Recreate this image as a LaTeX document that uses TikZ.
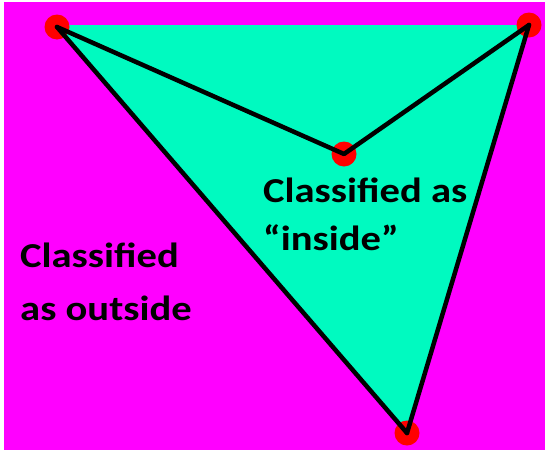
\documentclass[tikz,border=0pt]{standalone}
\usepackage{fontspec}
\setmainfont{Carlito}[FakeStretch=1.16]
\usepackage{tikz}
\usetikzlibrary{positioning}
\definecolor{bgmagenta}{RGB}{255,0,255}
\definecolor{insidegreen}{RGB}{0,250,192}

\begin{document}
\begin{tikzpicture}[x=1pt,y=-1pt,
  vertex/.style={circle, fill=red, inner sep=0pt, minimum size=25pt},
  edge/.style={line width=4.5pt, black, line cap=round, line join=round},
  label/.style={font=\fontsize{35}{47}\selectfont\bfseries, align=left, inner sep=0pt, text=black}]
\useasboundingbox (0,0) rectangle (545,450);
\fill [white] (0,0) rectangle (545,450);
\fill [bgmagenta] (4,2) rectangle (545,450);

\coordinate (A) at (57,27);
\coordinate (B) at (529,25);
\coordinate (M) at (344,154);
\coordinate (C) at (407,433);

\fill [insidegreen] (57,25) -- (529,25) -- (C) -- cycle;

\node [vertex] (a) at (A) {};
\node [vertex] (b) at (B) {};
\node [vertex] (m) at (M) {};
\node [vertex] (c) at (C) {};

\draw [edge] (A) -- (M) -- (B);
\draw [edge] (A) -- (C);
\draw [edge] (B) -- (C);

\node [label, anchor=base west] (in1) at (263,202) {Classified as};
\node [label, anchor=base west] (in2) at (263,250) {\char"201C inside\char"201D};

\node [label, anchor=base west] (out1) at (20,267) {Classified};
\node [label, anchor=base west] (out2) at (20,320) {as outside};

\end{tikzpicture}
\end{document}
